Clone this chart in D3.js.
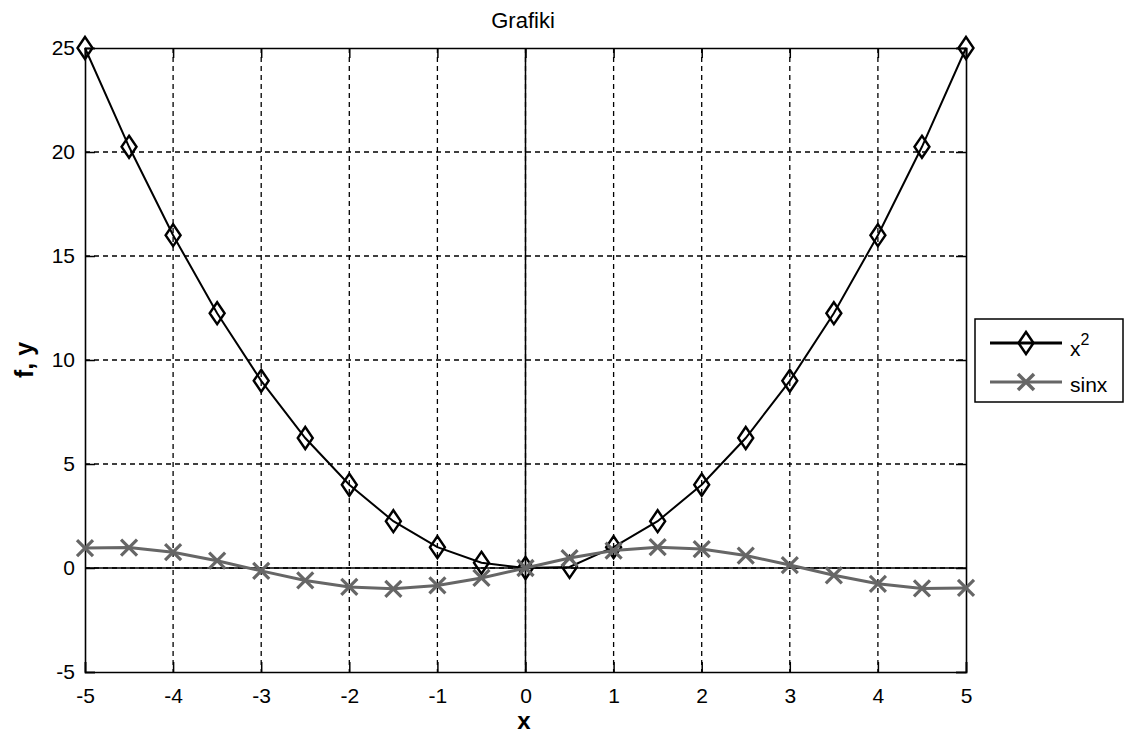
<!DOCTYPE html>
<html><head><meta charset="utf-8">
<script src="https://cdn.jsdelivr.net/npm/d3@7"></script>
<style>body{margin:0;background:#fff}svg{display:block}text{font-family:"Liberation Sans",Arial,sans-serif}</style>
</head><body>
<svg id="c" width="1125" height="736"></svg>
<script>
const xs = [-5,-4.5,-4,-3.5,-3,-2.5,-2,-1.5,-1,-0.5,0,0.5,1,1.5,2,2.5,3,3.5,4,4.5,5];
const sq = [25,20.25,16,12.25,9,6.25,4,2.25,1,0.25,0,0.05,1,2.25,4,6.25,9,12.25,16,20.25,25];
const sn = [0.96,0.98,0.76,0.35,-0.14,-0.6,-0.91,-1.0,-0.84,-0.48,0,0.48,0.84,1.0,0.91,0.6,0.14,-0.35,-0.76,-0.98,-0.96];
const xTicks = [-5,-4,-3,-2,-1,0,1,2,3,4,5];
const yTicks = [-5,0,5,10,15,20,25];
const title = "Grafiki", xLabel = "x", yLabel = "f, y";

const L=85,R=966,T=48,B=672;
const svg=d3.select("#c");
const x=d3.scaleLinear().domain([-5,5]).range([L,R]);
const y=d3.scaleLinear().domain([-5,25]).range([B,T]);
const gray="#666666";
const fmt=d=>String(d);

// grid
const g=svg.append("g");
g.selectAll(".gx").data(xTicks.slice(1,-1)).join("line")
 .attr("x1",d=>x(d)).attr("x2",d=>x(d)).attr("y1",T).attr("y2",B)
 .attr("stroke","#000").attr("stroke-width",1.3).attr("stroke-dasharray","5,4");
g.selectAll(".gy").data(yTicks.slice(1,-1)).join("line")
 .attr("y1",d=>y(d)).attr("y2",d=>y(d)).attr("x1",L).attr("x2",R)
 .attr("stroke","#000").attr("stroke-width",1.3).attr("stroke-dasharray","5,4");
// zero lines
svg.append("line").attr("x1",x(0)).attr("x2",x(0)).attr("y1",T).attr("y2",B).attr("stroke","#000").attr("stroke-width",1.5);
svg.append("line").attr("x1",L).attr("x2",R).attr("y1",y(0)).attr("y2",y(0)).attr("stroke","#000").attr("stroke-width",1.5);

// axes
const tl=10;
const ax=svg.append("g").attr("transform",`translate(0,${B})`).call(d3.axisBottom(x).tickValues(xTicks).tickSize(-tl).tickPadding(16).tickFormat(fmt));
const axT=svg.append("g").attr("transform",`translate(0,${T})`).call(d3.axisTop(x).tickValues(xTicks).tickSize(-tl).tickFormat(""));
const ay=svg.append("g").attr("transform",`translate(${L},0)`).call(d3.axisLeft(y).tickValues(yTicks).tickSize(-tl).tickPadding(10).tickFormat(fmt));
const ayR=svg.append("g").attr("transform",`translate(${R},0)`).call(d3.axisRight(y).tickValues(yTicks).tickSize(-tl).tickFormat(""));
[ax,axT,ay,ayR].forEach(a=>{
  a.select(".domain").attr("stroke","#000").attr("stroke-width",1.6);
  a.selectAll(".tick line").attr("stroke","#000").attr("stroke-width",1.5);
  a.selectAll("text").attr("font-size",21).attr("fill","#000").attr("font-family","Liberation Sans, Arial, sans-serif");
});

// lines
const line=d3.line().x(d=>x(d[0])).y(d=>y(d[1]));
const d1=xs.map((v,i)=>[v,sq[i]]), d2=xs.map((v,i)=>[v,sn[i]]);
svg.append("path").datum(d1).attr("d",line).attr("fill","none").attr("stroke","#000").attr("stroke-width",2);
const dia=(cx,cy)=>`M${cx},${cy-11}L${cx+7.5},${cy}L${cx},${cy+11}L${cx-7.5},${cy}Z`;
svg.selectAll(".m1").data(d1).join("path").attr("d",d=>dia(x(d[0]),y(d[1])))
 .attr("fill","none").attr("stroke","#000").attr("stroke-width",2.4);
svg.append("path").datum(d2).attr("d",line).attr("fill","none").attr("stroke",gray).attr("stroke-width",3);
const cross=(cx,cy)=>`M${cx-8},${cy-8}L${cx+8},${cy+8}M${cx-8},${cy+8}L${cx+8},${cy-8}`;
svg.selectAll(".m2").data(d2).join("path").attr("d",d=>cross(x(d[0]),y(d[1])))
 .attr("fill","none").attr("stroke",gray).attr("stroke-width",3.2);

// texts
svg.append("text").attr("x",523).attr("y",28).attr("text-anchor","middle").attr("font-size",22).text(title);
svg.append("text").attr("x",524).attr("y",729).attr("text-anchor","middle").attr("font-size",24).attr("font-weight","bold").text(xLabel);
svg.append("text").attr("transform",`translate(33,${(T+B)/2}) rotate(-90)`).attr("text-anchor","middle").attr("font-size",25).attr("font-weight","bold").text(yLabel);

// legend
const lg=svg.append("g");
lg.append("rect").attr("x",975).attr("y",319).attr("width",148).attr("height",83).attr("fill","#fff").attr("stroke","#000").attr("stroke-width",1.5);
lg.append("line").attr("x1",990).attr("x2",1062).attr("y1",343).attr("y2",343).attr("stroke","#000").attr("stroke-width",3);
lg.append("path").attr("d",dia(1026,343)).attr("fill","none").attr("stroke","#000").attr("stroke-width",2.5);
const t1=lg.append("text").attr("x",1070).attr("y",356).attr("font-size",21);
t1.append("tspan").text("x");
t1.append("tspan").attr("dy",-11).attr("font-size",16).text("2");
lg.append("line").attr("x1",990).attr("x2",1062).attr("y1",382).attr("y2",382).attr("stroke",gray).attr("stroke-width",3);
lg.append("path").attr("d",cross(1026,382)).attr("fill","none").attr("stroke",gray).attr("stroke-width",3.5);
lg.append("text").attr("x",1070).attr("y",392).attr("font-size",21).text("sinx");
</script>
</body></html>
